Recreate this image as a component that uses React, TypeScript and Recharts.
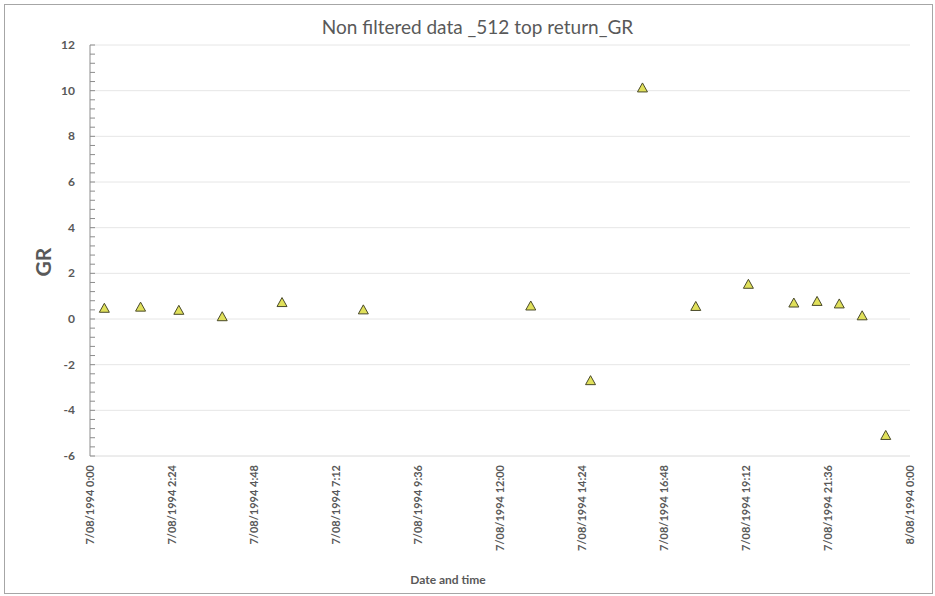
import React from "react";
import { ScatterChart, Scatter, XAxis, YAxis, CartesianGrid } from "recharts";

// hours after 7/08/1994 0:00
const hours = [0.42, 1.48, 2.6, 3.87, 5.62, 8.0, 12.9, 14.65, 16.17, 17.73, 19.27, 20.6, 21.28, 21.93, 22.6, 23.29];
const grValues = [0.47, 0.52, 0.38, 0.1, 0.72, 0.4, 0.57, -2.7, 10.12, 0.55, 1.52, 0.7, 0.77, 0.66, 0.14, -5.1];

const xTicks = [0, 2.4, 4.8, 7.2, 9.6, 12, 14.4, 16.8, 19.2, 21.6, 24];
const xTickLabels = [
  "7/08/1994 0:00",
  "7/08/1994 2:24",
  "7/08/1994 4:48",
  "7/08/1994 7:12",
  "7/08/1994 9:36",
  "7/08/1994 12:00",
  "7/08/1994 14:24",
  "7/08/1994 16:48",
  "7/08/1994 19:12",
  "7/08/1994 21:36",
  "8/08/1994 0:00",
];
const yMajor = [-6, -4, -2, 0, 2, 4, 6, 8, 10, 12];

const data = hours.map((h, i) => ({ t: h, gr: grValues[i] }));

// minor ticks every 0.4 between -6 and 12
const yTicks: number[] = [];
for (let i = 0; i <= 45; i++) yTicks.push(Math.round((-6 + i * 0.4) * 10) / 10);

const FONT = "Lato, 'Open Sans', sans-serif";
const GREY = "#595959";

const YTick = (props: any) => {
  const { x, y, payload } = props;
  const v = payload.value;
  const major = yMajor.includes(v);
  return (
    <g>
      <line x1={x} x2={x + 5} y1={y} y2={y} stroke="#8c8c8c" strokeWidth={1} />
      {major && (
        <text x={x - 15} y={y + 4} textAnchor="end" fontSize={12} fontWeight="bold" fill={GREY} fontFamily={FONT}>
          {v}
        </text>
      )}
    </g>
  );
};

const XTick = (props: any) => {
  const { x, y, payload } = props;
  const idx = xTicks.indexOf(payload.value);
  return (
    <text
      x={x + 4}
      y={y + 7}
      transform={`rotate(-90, ${x + 4}, ${y + 7})`}
      textAnchor="end"
      fontSize={11}
      fontWeight="bold"
      fill={GREY}
      fontFamily={FONT}
    >
      {xTickLabels[idx]}
    </text>
  );
};

const Tri = (props: any) => {
  const { cx, cy } = props;
  const pts = `${cx},${cy - 5} ${cx - 5},${cy + 4} ${cx + 5},${cy + 4}`;
  return <polygon points={pts} fill="#e0e05a" stroke="#4a4a2a" strokeWidth={1} />;
};

export default function App() {
  return (
    <div style={{ position: "absolute", left: 0, top: 0, width: 935, height: 596, background: "#fff" }}>
      <div
        style={{
          position: "absolute",
          left: 4,
          top: 4,
          width: 927,
          height: 588,
          border: "1px solid #a6a6a6",
        }}
      />
      <ScatterChart width={935} height={596} margin={{ top: 45, right: 25, bottom: 50, left: 40 }}>
        <CartesianGrid horizontal vertical={false} stroke="#e6e6e6" horizontalValues={yMajor} />
        <XAxis
          type="number"
          dataKey="t"
          domain={[0, 24]}
          ticks={xTicks}
          interval={0}
          height={90}
          tick={<XTick />}
          tickLine={false}
          tickSize={0}
          axisLine={{ stroke: "#e6e6e6" }}
        />
        <YAxis
          type="number"
          dataKey="gr"
          domain={[-6, 12]}
          ticks={yTicks}
          interval={0}
          width={50}
          tick={<YTick />}
          tickLine={false}
          tickSize={0}
          tickMargin={0}
          axisLine={{ stroke: "#8c8c8c" }}
        />
        <Scatter data={data} shape={<Tri />} isAnimationActive={false} />
      </ScatterChart>
      <div
        style={{
          position: "absolute",
          left: 0,
          width: 955,
          top: 15,
          textAlign: "center",
          fontFamily: FONT,
          fontSize: 19,
          color: GREY,
        }}
      >
        Non filtered data _512 top return_GR
      </div>
      <div
        style={{
          position: "absolute",
          left: 298,
          width: 300,
          top: 572,
          textAlign: "center",
          fontFamily: FONT,
          fontSize: 12,
          fontWeight: "bold",
          color: GREY,
        }}
      >
        Date and time
      </div>
      <div
        style={{
          position: "absolute",
          left: 42,
          top: 262,
          transform: "translate(-50%, -50%) rotate(-90deg)",
          fontFamily: FONT,
          fontSize: 21,
          fontWeight: "bold",
          color: GREY,
        }}
      >
        GR
      </div>
    </div>
  );
}
